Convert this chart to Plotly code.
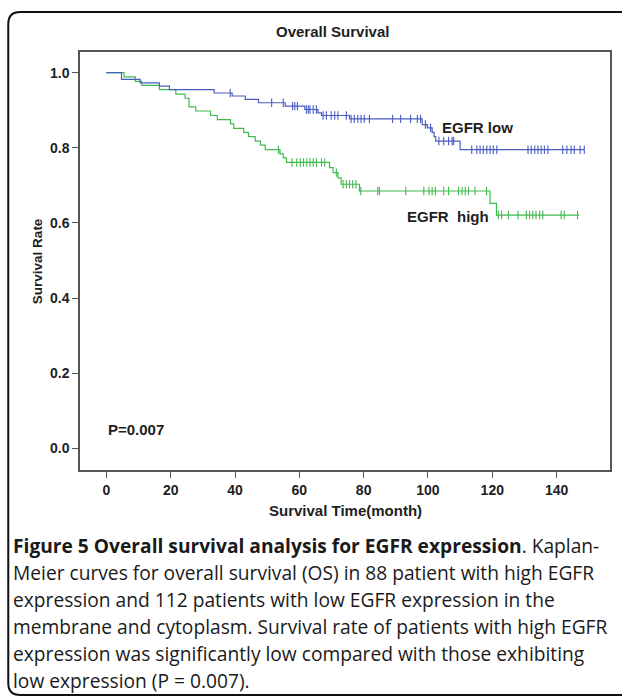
import numpy as np
import plotly.graph_objects as go

# ---------------- data ----------------
green_t = [0, 5.5, 9, 11, 16.5, 21.6, 24.5, 25.7, 27.8, 32.4, 34.5, 38.6, 39.6, 42.7, 44.2,
           46.3, 47.9, 49.4, 54.0, 55.0, 56.0, 69.4, 70.5, 72.0, 73.0, 78.7, 119.3, 121.3, 147.0]
green_s = [1.0, 0.989, 0.977, 0.966, 0.955, 0.943, 0.932, 0.909, 0.898, 0.886, 0.875, 0.864,
           0.852, 0.841, 0.830, 0.818, 0.807, 0.795, 0.784, 0.773, 0.761, 0.747, 0.734, 0.720,
           0.703, 0.685, 0.652, 0.621, 0.621]
green_cens = [53.5, 57.7, 59.2, 60.3, 61.3, 62.3, 63.3, 64.3, 65.3, 66.9, 67.9, 71.5, 73.6, 74.6,
              75.6, 76.6, 77.6, 79.1, 84.4, 84.9, 93.1, 98.7, 100.3, 101.3, 102.3, 104.9, 106.4,
              109.5, 110.6, 111.6, 112.6, 114.6, 118.2, 121.9, 122.9, 125.0, 128.0, 130.6, 131.6,
              132.6, 133.6, 134.7, 135.7, 141.4, 142.4, 146.5]

blue_t = [0, 4.7, 10.5, 16.5, 19.6, 33.5, 39.1, 43.2, 47.3, 55.6, 61.7, 65.8, 66.9, 75.6, 98.2,
          99.8, 101.3, 101.9, 102.4, 110.0, 148.6]
blue_s = [1.0, 0.982, 0.973, 0.964, 0.955, 0.946, 0.938, 0.929, 0.920, 0.911, 0.902, 0.893,
          0.886, 0.877, 0.862, 0.853, 0.841, 0.830, 0.818, 0.795, 0.795]
blue_cens = [38.5, 51.4, 55.0, 57.9, 58.6, 59.4, 62.2, 62.8, 63.3, 64.3, 65.3, 67.4, 68.4, 69.9,
             71.0, 72.0, 74.6, 76.1, 77.1, 78.2, 79.2, 80.2, 81.8, 89.0, 91.5, 94.6, 96.7, 97.7,
             99.2, 100.8, 103.4, 104.9, 106.4, 107.5, 108.0, 113.6, 115.2, 116.2, 117.2, 118.3,
             119.3, 120.3, 121.4, 131.1, 132.1, 133.2, 134.2, 135.2, 136.2, 137.3, 141.9, 143.2,
             144.5, 145.5, 147.3, 148.6]

x_ticks = [0, 20, 40, 60, 80, 100, 120, 140]
y_ticks = [0.0, 0.2, 0.4, 0.6, 0.8, 1.0]

caption_lines = [
    "<b>Figure 5 Overall survival analysis for EGFR expression</b>. Kaplan-",
    "Meier curves for overall survival (OS) in 88 patient with high EGFR",
    "expression and 112 patients with low EGFR expression in the",
    "membrane and cytoplasm. Survival rate of patients with high EGFR",
    "expression was significantly low compared with those exhibiting",
    "low expression (P = 0.007).",
]

BLUE = "#4a5cc2"
GREEN = "#3fba4f"
AX = "#555555"
TXT = "#1e1e1e"


def step_value(ts, ss, t):
    i = np.searchsorted(np.array(ts), t, side="right") - 1
    return np.array(ss)[i]


# ---------------- layout geometry ----------------
W, H = 622, 698
L, R, T, B = 80, 612, 52, 470  # plot box in pixels


def px(x):
    return (x - L) / (R - L)


def py(y):
    return (B - y) / (B - T)


fig = go.Figure()

for ts, ss, cens, col in [(green_t, green_s, green_cens, GREEN), (blue_t, blue_s, blue_cens, BLUE)]:
    fig.add_trace(go.Scatter(x=ts, y=ss, mode="lines", line=dict(color=col, width=1.2, shape="hv"),
                             hoverinfo="skip", showlegend=False))
    fig.add_trace(go.Scatter(x=cens, y=[step_value(ts, ss, c) for c in cens], mode="markers",
                             marker=dict(symbol="line-ns", size=6, line=dict(color=col, width=1.1)),
                             hoverinfo="skip", showlegend=False))

font_b = "Liberation Sans, Arial, sans-serif"

fig.update_layout(
    width=W, height=H,
    margin=dict(l=L, r=W - R, t=T, b=H - B, pad=0),
    paper_bgcolor="white", plot_bgcolor="white",
    showlegend=False,
    font=dict(family=font_b, color=TXT, size=14),
    xaxis=dict(range=[-8.2, 156.6], tickvals=x_ticks, ticks="outside", ticklen=6, tickwidth=1.3,
               tickcolor=AX, showline=True, linecolor=AX, linewidth=1.5, mirror=True,
               showgrid=False, zeroline=False,
               tickfont=dict(family=font_b, size=14, color=TXT, weight="bold")),
    yaxis=dict(range=[-0.0578, 1.0551], tickvals=y_ticks, tickformat=".1f", ticks="outside",
               ticklen=6, tickwidth=1.3, tickcolor=AX, showline=True, linecolor=AX,
               linewidth=1.5, mirror=True, showgrid=False, zeroline=False,
               tickfont=dict(family=font_b, size=14, color=TXT, weight="bold")),
)

ann = []


def add_text(text, x, y, size=15, xanchor="center", yanchor="middle", angle=0, bold=True,
             family=font_b, color=TXT):
    ann.append(dict(text=(f"<b>{text}</b>" if bold else text), x=px(x), y=py(y), xref="paper",
                    yref="paper", showarrow=False, xanchor=xanchor, yanchor=yanchor,
                    textangle=angle, font=dict(size=size, family=family, color=color)))


add_text("Overall Survival", 333, 32, size=15)
add_text("Survival Rate", 37, 261, size=13.5, angle=-90)
add_text("Survival Time(month)", 347, 511, size=15)
add_text("EGFR low", 441, 127, size=15, xanchor="left")
add_text("EGFR  high", 406, 216, size=15, xanchor="left")
add_text("P=0.007", 106, 429, size=15, xanchor="left")

cap_y = [545, 572, 599, 626, 653, 680]
for line, yy in zip(caption_lines, cap_y):
    ann.append(dict(text=line, x=px(11), y=py(yy), xref="paper", yref="paper", showarrow=False,
                    xanchor="left", yanchor="middle", align="left",
                    font=dict(size=19.2, family="Open Sans, sans-serif", color="#1a1a1a")))

fig.update_layout(annotations=ann)

# outer rounded frame
x0, x1, y0, y1, r = 8, 640, 12, 695, 12
rx, ry = r / (R - L), r / (B - T)
X0, X1, Y0, Y1 = px(x0), px(x1), py(y0), py(y1)
path = (f"M {X0 + rx},{Y0} L {X1},{Y0} L {X1},{Y1} L {X0 + rx},{Y1} "
        f"Q {X0},{Y1} {X0},{Y1 + ry} L {X0},{Y0 - ry} Q {X0},{Y0} {X0 + rx},{Y0} Z")
fig.add_shape(type="path", path=path, xref="paper", yref="paper",
              line=dict(color="#111111", width=2), fillcolor="rgba(0,0,0,0)", layer="below")

fig.write_html("out.html", config={"displayModeBar": False},
               post_script="document.body.style.margin='0';document.body.style.overflow='hidden';")
